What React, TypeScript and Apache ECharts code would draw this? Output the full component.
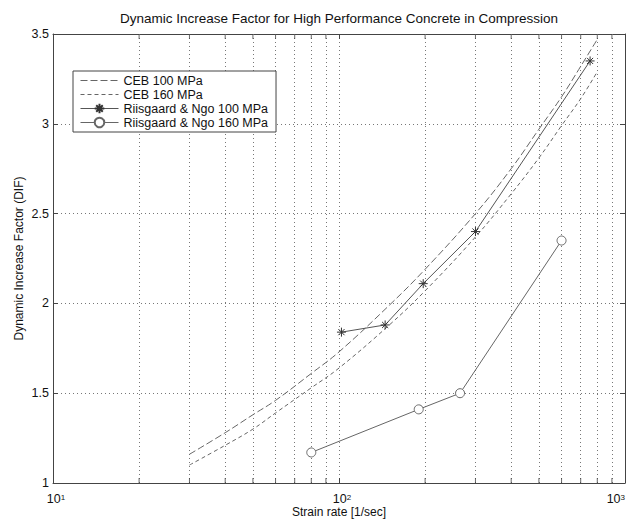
import React, { useEffect, useRef } from 'react';
import * as echarts from 'echarts';

const titleText = 'Dynamic Increase Factor for High Performance Concrete in Compression';
const xName = 'Strain rate [1/sec]';
const yName = 'Dynamic Increase Factor (DIF)';
const seriesNames = ['CEB 100 MPa', 'CEB 160 MPa', 'Riisgaard & Ngo 100 MPa', 'Riisgaard & Ngo 160 MPa'];

const cebRates = [30, 40, 50, 60, 80, 100, 150, 200, 300, 400, 500, 600, 700, 800];
const ceb100 = [1.16, 1.28, 1.38, 1.46, 1.61, 1.73, 1.99, 2.19, 2.5, 2.75, 2.97, 3.15, 3.32, 3.47];
const ceb160 = [1.1, 1.21, 1.3, 1.39, 1.53, 1.64, 1.88, 2.07, 2.37, 2.61, 2.81, 2.99, 3.14, 3.29];

const rn100Rates = [102, 145, 197, 300, 755];
const rn100Dif = [1.84, 1.88, 2.11, 2.4, 3.35];
const rn160Rates = [80, 190, 265, 600];
const rn160Dif = [1.17, 1.41, 1.5, 2.35];

const xMin = 10;
const xMax = 1000;
const yMin = 1;
const yMax = 3.5;
const yStep = 0.5;
const minorRates = [20, 30, 40, 50, 60, 70, 80, 90, 200, 300, 400, 500, 600, 700, 800, 900];

const FONT = 'Liberation Sans, Arial, Helvetica, sans-serif';
const STAR = 'path://M5,0L5,10M0,5L10,5M1.6,1.6L8.4,8.4M1.6,8.4L8.4,1.6';
const GRID_COLOR = '#777';
const AXIS_COLOR = '#444';

const zip = (xs: number[], ys: number[]) => xs.map((x, i) => [x, ys[i]]);

export default function App() {
  const ref = useRef<HTMLDivElement>(null);
  useEffect(() => {
    if (!ref.current) return;
    const chart = echarts.init(ref.current, undefined, { renderer: 'svg' });
    const gridStyle = { color: GRID_COLOR, width: 1, type: [1, 3] as any };
    const axisLine = { show: true, onZero: false, lineStyle: { color: AXIS_COLOR, width: 1 } };
    const tick = { show: true, inside: true, length: 5, lineStyle: { color: AXIS_COLOR } };
    const hiddenIcon = { color: 'transparent', borderColor: 'transparent', borderWidth: 0 };
    const option: any = {
      animation: false,
      backgroundColor: '#fff',
      textStyle: { fontFamily: FONT },
      grid: { left: 53, right: 9, top: 34, bottom: 38, containLabel: false, outerBoundsMode: 'none' },
      graphic: [
        {
          type: 'text',
          x: 339,
          y: 18,
          style: {
            text: titleText,
            align: 'center',
            verticalAlign: 'middle',
            fontSize: 13.5,
            fontFamily: FONT,
            fill: '#111',
          },
        },
      ],
      legend: {
        data: [
          { name: seriesNames[0], itemStyle: hiddenIcon },
          { name: seriesNames[1], itemStyle: hiddenIcon },
          { name: seriesNames[2] },
          { name: seriesNames[3] },
        ],
        orient: 'vertical',
        left: 73,
        top: 71,
        itemWidth: 38,
        itemHeight: 12,
        itemGap: 1,
        padding: [3, 8, 3, 7],
        borderColor: AXIS_COLOR,
        borderWidth: 1,
        backgroundColor: '#fff',
        lineStyle: { width: 1 },
        textStyle: { fontSize: 12.5, color: '#111', fontFamily: FONT },
      },
      xAxis: [
        {
          type: 'log',
          logBase: 10,
          min: xMin,
          max: xMax,
          name: xName,
          nameLocation: 'middle',
          nameGap: 23,
          nameMoveOverlap: false,
          nameTextStyle: { fontSize: 12, color: '#111', fontFamily: FONT },
          axisLine,
          axisTick: tick,
          splitLine: { show: true, lineStyle: gridStyle },
          axisLabel: {
            margin: 10,
            color: '#111',
            hideOverlap: false,
            alignMaxLabel: 'right',
            formatter: (v: number) => `{b|10}{s|${Math.round(Math.log10(v))}}`,
            rich: {
              b: { fontSize: 12.5, fontFamily: FONT, color: '#111', padding: [6, 0, 0, 6], verticalAlign: 'bottom', lineHeight: 12 },
              s: { fontSize: 8, fontFamily: FONT, color: '#111', verticalAlign: 'top', lineHeight: 8 },
            },
          },
        },
        {
          type: 'log',
          logBase: 10,
          min: xMin,
          max: xMax,
          position: 'top',
          axisLine,
          axisTick: tick,
          axisLabel: { show: false },
          splitLine: { show: false },
        },
      ],
      yAxis: [
        {
          type: 'value',
          min: yMin,
          max: yMax,
          interval: yStep,
          name: yName,
          nameLocation: 'middle',
          nameGap: 28,
          nameMoveOverlap: false,
          nameRotate: 90,
          nameTextStyle: { fontSize: 12, color: '#111', fontFamily: FONT },
          axisLine,
          axisTick: tick,
          splitLine: { show: true, lineStyle: gridStyle },
          axisLabel: { margin: 4, fontSize: 12.5, color: '#111', fontFamily: FONT },
        },
        {
          type: 'value',
          min: yMin,
          max: yMax,
          interval: yStep,
          position: 'right',
          axisLine,
          axisTick: tick,
          splitLine: { show: false },
          axisLabel: { show: false },
        },
      ],
      series: [
        {
          name: 'minor-bottom',
          type: 'scatter',
          silent: true,
          data: minorRates.map((v) => [v, yMin]),
          symbol: 'rect',
          symbolSize: [1, 5],
          symbolOffset: [0, -2.5],
          itemStyle: { color: AXIS_COLOR },
          z: 1,
        },
        {
          name: 'minor-top',
          type: 'scatter',
          silent: true,
          data: minorRates.map((v) => [v, yMax]),
          symbol: 'rect',
          symbolSize: [1, 5],
          symbolOffset: [0, 2.5],
          itemStyle: { color: AXIS_COLOR },
          z: 1,
        },
        {
          name: seriesNames[0],
          type: 'line',
          data: zip(cebRates, ceb100),
          symbol: 'none',
          smooth: 0.4,
          lineStyle: { color: '#666', width: 1, type: [7, 3] },
          itemStyle: { color: '#666' },
          z: 3,
          markLine: {
            silent: true,
            symbol: ['none', 'none'],
            label: { show: false },
            lineStyle: { color: GRID_COLOR, width: 1, type: [1, 3] },
            data: minorRates.map((v) => ({ xAxis: v })),
            z: 1,
          },
        },
        {
          name: seriesNames[1],
          type: 'line',
          data: zip(cebRates, ceb160),
          symbol: 'none',
          smooth: 0.4,
          lineStyle: { color: '#666', width: 1, type: [4, 3] },
          itemStyle: { color: '#666' },
          z: 3,
        },
        {
          name: seriesNames[2],
          type: 'line',
          data: zip(rn100Rates, rn100Dif),
          symbol: STAR,
          symbolSize: 9,
          lineStyle: { color: '#555', width: 1 },
          itemStyle: { color: '#333', borderColor: '#333', borderWidth: 1 },
          z: 4,
        },
        {
          name: seriesNames[3],
          type: 'line',
          data: zip(rn160Rates, rn160Dif),
          symbol: 'circle',
          symbolSize: 9,
          lineStyle: { color: '#666', width: 1 },
          itemStyle: { color: '#fff', borderColor: '#666', borderWidth: 1 },
          z: 4,
        },
      ],
    };
    chart.setOption(option);
    return () => chart.dispose();
  }, []);
  return (
    <div
      ref={ref}
      style={{ position: 'fixed', left: 0, top: 0, width: 634, height: 521, background: '#fff' }}
    />
  );
}
